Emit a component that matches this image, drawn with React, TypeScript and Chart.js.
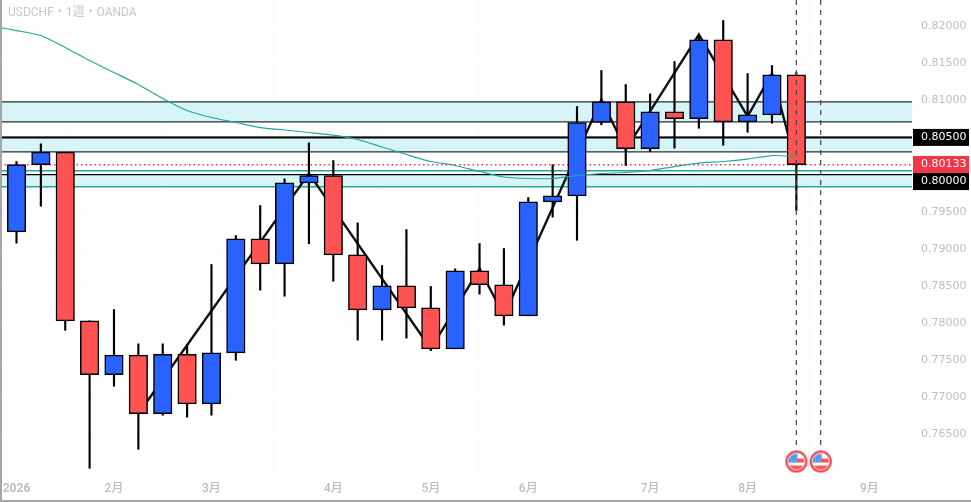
import React, { useEffect, useRef } from "react";
import { Chart, registerables } from "chart.js";

Chart.register(...registerables);

const opens = [0.79229,0.80133,0.80301,0.78031,0.77304,0.77568,0.76779,0.77581,0.76913,0.776,0.79135,0.78798,0.79889,0.79987,0.78919,0.78179,0.78502,0.78206,0.77654,0.78704,0.78516,0.78098,0.79633,0.79714,0.80701,0.80979,0.80347,0.80846,0.80751,0.81814,0.8071,0.80804,0.81343];
const closes = [0.80133,0.80301,0.78031,0.77304,0.77568,0.76779,0.77581,0.76913,0.776,0.79135,0.78798,0.79889,0.79987,0.78919,0.78179,0.78502,0.78206,0.77654,0.78704,0.78516,0.78098,0.79633,0.79714,0.80701,0.80979,0.80347,0.80846,0.80751,0.81814,0.8071,0.80804,0.81343,0.80133];
const highs = [0.80176,0.80414,0.80301,0.78031,0.78183,0.77721,0.77721,0.77708,0.78789,0.79179,0.79583,0.79943,0.80427,0.80189,0.7935,0.78775,0.7926,0.78493,0.78731,0.79072,0.79004,0.79691,0.80133,0.80916,0.81401,0.81212,0.81087,0.81522,0.81872,0.82074,0.8136,0.81468,0.81374];
const lows = [0.79076,0.79574,0.77904,0.76046,0.7715,0.76302,0.7676,0.76733,0.7676,0.775,0.78443,0.78362,0.79068,0.78564,0.7777,0.7777,0.77797,0.77631,0.77654,0.78389,0.77972,0.78098,0.79426,0.79116,0.8067,0.80122,0.8031,0.80355,0.80624,0.80395,0.8057,0.80691,0.79516];

const maStart = { x: -0.68, y: 0.8198 };
const maValues = [0.81939,0.81872,0.81711,0.81535,0.81374,0.81212,0.81024,0.80862,0.80768,0.80701,0.80633,0.806,0.80566,0.80532,0.80472,0.80371,0.8027,0.80176,0.80122,0.80041,0.79967,0.79947,0.79947,0.79987,0.80014,0.80028,0.80055,0.80108,0.80155,0.80176,0.80209,0.80256,0.80243];

const zigzagIndex = [5,12,17,19,20,24,25,28,30,31,32];
const zigzagValues = [0.76779,0.80012,0.77654,0.78731,0.78098,0.81009,0.80336,0.81885,0.80784,0.81363,0.80119];

const bands: [number, number][] = [[0.80979,0.8071],[0.805,0.80306],[0.8,0.79835]];
const resistanceLevel = 0.805;
const supportLevel = 0.8;
const tealLevels = [0.8005,0.79835];
const lastPrice = 0.80133;

const yTickValues = [0.765,0.77,0.775,0.78,0.785,0.79,0.795,0.8,0.805,0.81,0.815,0.82];
const monthTickIndex = [0,4,8,13,17,21,26,30,35];
const monthTickLabels = ["2026","2月","3月","4月","5月","6月","7月","8月","9月"];

const eventIndex = [32,33];
const eventLevel = 0.76136;
const dashEndLevel = 0.76285;

const titleText = "USDCHF・1週・OANDA";
const badges = [
  { value: resistanceLevel, text: "0.80500", color: "#000000", shift: 0 },
  { value: lastPrice, text: "0.80133", color: "#f23645", shift: -0.2 },
  { value: supportLevel, text: "0.80000", color: "#000000", shift: 7 },
];

const X_MIN = -0.677, X_MAX = 36.746, Y_MIN = 0.759413, Y_MAX = 0.823503;
const BLUE = "#2962ff", RED = "#ff5252", TEAL = "#26a69a", BAND = "#d7f5f7", LABEL = "#bdbdbd";
const FONT = "'DejaVu Sans'";
const AXIS_FONT = "Roboto, 'Noto Sans CJK JP'";

function flagIcon(): HTMLCanvasElement {
  const c = document.createElement("canvas");
  c.width = 24; c.height = 24;
  const g = c.getContext("2d")!;
  g.beginPath(); g.arc(12, 12, 10.5, 0, Math.PI * 2);
  g.fillStyle = "#ffffff"; g.fill();
  g.save(); g.beginPath(); g.arc(12, 12, 8, 0, Math.PI * 2); g.clip();
  g.fillStyle = RED; g.fillRect(4, 9, 16, 4); g.fillRect(4, 16, 16, 4);
  g.fillStyle = "#4a90e8"; g.fillRect(4, 4, 9, 9);
  g.fillStyle = "#cfe2fa";
  for (let a = 6; a < 13; a += 2.5) for (let b = 5; b < 13; b += 2.5) g.fillRect(a, b, 1, 1);
  g.restore();
  g.beginPath(); g.arc(12, 12, 10, 0, Math.PI * 2);
  g.strokeStyle = "#f23645"; g.lineWidth = 2; g.stroke();
  return c;
}

const hLine = (y: number, color: string, width: number, order: number, extra: object = {}) => ({
  type: "line", data: [{ x: X_MIN, y }, { x: X_MAX, y }], borderColor: color, borderWidth: width,
  pointRadius: 0, order, fill: false, ...extra,
});

const noPadding = (s: any) => {
  s.paddingLeft = 0; s.paddingRight = 0; s.paddingTop = 0; s.paddingBottom = 0;
};

const overlay = {
  id: "overlay",
  afterDraw(chart: any) {
    const { ctx, scales: { y } } = chart;
    ctx.save();
    ctx.fillStyle = "#a6a6a6";
    ctx.fillRect(0, 0, 2, 502);
    ctx.fillRect(0, 500, 971, 2);
    ctx.textBaseline = "middle";
    for (const b of badges) {
      const cy = y.getPixelForValue(b.value) + b.shift;
      ctx.fillStyle = b.color;
      ctx.fillRect(913, cy - 8.5, 56, 17);
      ctx.fillStyle = "#ffffff";
      ctx.font = `11px ${FONT}`;
      ctx.textAlign = "left";
      ctx.fillText(b.text, 921, cy);
    }
    ctx.fillStyle = "#c8c8c8";
    ctx.font = `12px ${AXIS_FONT}`;
    ctx.fillText(titleText, 8, 13);
    ctx.restore();
  },
};

export default function App() {
  const ref = useRef<HTMLCanvasElement | null>(null);
  useEffect(() => {
    const idx = opens.map((_, i) => i);
    const icon = flagIcon();
    const chart = new Chart(ref.current!, {
      type: "bar",
      plugins: [overlay],
      data: {
        datasets: [
          ...bands.map(([top, bottom]) => ({
            type: "line", data: [{ x: X_MIN, y: top }, { x: X_MAX, y: top }], borderWidth: 0,
            pointRadius: 0, order: 20, fill: { value: bottom }, backgroundColor: BAND,
          })),
          ...bands.slice(0, 2).flatMap(([top, bottom]) => [hLine(top, "#2a2e39", 1.2, 18), hLine(bottom, "#2a2e39", 1.2, 18)]),
          hLine(resistanceLevel, "#000000", 2, 17),
          hLine(supportLevel, "#000000", 1.2, 17),
          ...tealLevels.map((v) => hLine(v, TEAL, 1.5, 17)),
          hLine(lastPrice, "#f23645", 1.5, 16, { borderDash: [1.5, 3] }),
          {
            type: "line", data: zigzagIndex.map((x, i) => ({ x, y: zigzagValues[i] })),
            borderColor: "#111111", borderWidth: 2.4, pointRadius: 0, order: 10, tension: 0,
          },
          {
            type: "bar", data: idx.map((x) => ({ x, y: [lows[x], highs[x]] })),
            backgroundColor: "#000000", borderWidth: 0, barThickness: 1.5, grouped: false, order: 8,
          },
          {
            type: "bar", data: idx.map((x) => ({ x, y: [opens[x], closes[x]] })),
            backgroundColor: idx.map((x) => (closes[x] >= opens[x] ? BLUE : RED)),
            borderColor: "#000000", borderWidth: 1.5, borderSkipped: false, barThickness: 18.5, grouped: false, order: 7,
          },
          {
            type: "line", data: [maStart, ...maValues.map((y, x) => ({ x, y }))],
            borderColor: TEAL, borderWidth: 1.2, pointRadius: 0, order: 5, tension: 0.2,
          },
          ...eventIndex.map((x) => ({
            type: "line", data: [{ x, y: Y_MAX }, { x, y: dashEndLevel }],
            borderColor: "#444444", borderWidth: 1.2, borderDash: [5, 5], pointRadius: 0, order: 4,
          })),
          {
            type: "line", showLine: false, data: eventIndex.map((x) => ({ x, y: eventLevel })),
            pointStyle: icon, pointRadius: 12, order: 3,
          },
        ] as any,
      },
      options: {
        animation: false,
        responsive: false,
        devicePixelRatio: 1,
        layout: { padding: 0, autoPadding: false },
        plugins: { legend: { display: false }, title: { display: false }, tooltip: { enabled: false } },
        scales: {
          x: {
            type: "linear", min: X_MIN, max: X_MAX, offset: false,
            afterBuildTicks: (s: any) => { s.ticks = monthTickIndex.map((value) => ({ value })); },
            afterFit: (s: any) => { s.height = 26; noPadding(s); },
            grid: { color: "#fafafa", drawTicks: false },
            border: { display: false },
            ticks: {
              autoSkip: false, maxRotation: 0, padding: 6, color: LABEL,
              font: (c: any) => ({ family: AXIS_FONT, size: 12, weight: c.index === 0 ? "bold" : 500 }),
              callback: (v: any) => monthTickLabels[monthTickIndex.indexOf(Number(v))] ?? "",
            },
          },
          y: {
            type: "linear", position: "right", min: Y_MIN, max: Y_MAX,
            afterBuildTicks: (s: any) => { s.ticks = yTickValues.map((value) => ({ value })); },
            afterFit: (s: any) => { s.width = 59; noPadding(s); },
            grid: { color: "#fafafa", drawTicks: false },
            border: { display: false },
            ticks: {
              autoSkip: false, padding: 9, color: LABEL, crossAlign: "near",
              font: { family: FONT, size: 11 },
              callback: (v: any) => Number(v).toFixed(5),
            },
          },
        },
      } as any,
    });
    return () => chart.destroy();
  }, []);
  return (
    <div style={{ position: "absolute", left: 0, top: 0, width: 971, height: 502 }}>
      <canvas ref={ref} width={971} height={502} style={{ display: "block" }} />
    </div>
  );
}
